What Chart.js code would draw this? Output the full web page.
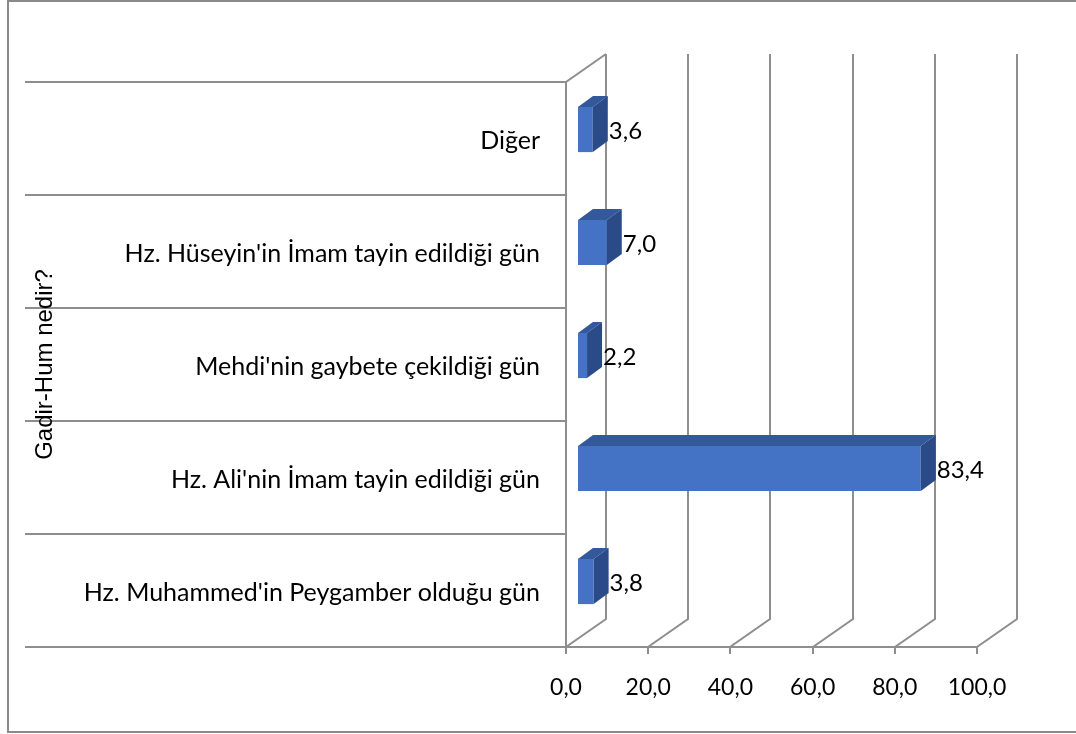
<!DOCTYPE html>
<html>
<head>
<meta charset="utf-8">
<script src="https://cdn.jsdelivr.net/npm/chart.js@4.4.1/dist/chart.umd.min.js"></script>
<style>
  html, body { margin: 0; padding: 0; background: #fff; }
  #wrap { width: 1076px; height: 734px; }
</style>
</head>
<body>
<div id="wrap"><canvas id="gadirChart" width="1076" height="734"></canvas></div>
<script>
const categories = [
  'Diğer',
  "Hz. Hüseyin'in İmam tayin edildiği gün",
  "Mehdi'nin gaybete çekildiği gün",
  "Hz. Ali'nin İmam tayin edildiği gün",
  "Hz. Muhammed'in Peygamber olduğu gün"
];
const percentages = [3.6, 7.0, 2.2, 83.4, 3.8];
const xTicks = [0, 20, 40, 60, 80, 100];
const axisTitle = 'Gadir-Hum nedir?';

const catFont = '25px Lato';
const valueFont = '24px Lato';
const tickFont = '23px Lato';
const gridColor = '#8e8e8e';
// depth of the 3D walls and of the bars
const wallDx = 40, wallDy = -28;
const barShiftX = 12, barShiftY = -9;
const barDx = 15, barDy = -11;

function fmt(v) {
  return v.toFixed(1).replace('.', ',');
}

const threeD = {
  id: 'threeD',
  beforeDraw(chart) {
    const ctx = chart.ctx;
    const x = chart.scales.x, y = chart.scales.y;
    const left = x.getPixelForValue(0), bottom = chart.chartArea.bottom, top = chart.chartArea.top;
    ctx.save();
    // outer border
    ctx.strokeStyle = '#8a8a8a';
    ctx.lineWidth = 2;
    ctx.strokeRect(8, 1, 1080, 731);

    ctx.strokeStyle = gridColor;
    ctx.lineWidth = 2;
    ctx.beginPath();
    // category separators
    const step = y.getPixelForValue(1) - y.getPixelForValue(0);
    for (let i = 0; i <= categories.length; i++) {
      const yy = Math.round(y.getPixelForValue(0) - step / 2 + step * i);
      ctx.moveTo(25, yy);
      ctx.lineTo(left, yy);
    }
    // left wall
    ctx.moveTo(left, bottom);
    ctx.lineTo(left, top);
    ctx.lineTo(left + wallDx, top + wallDy);
    // floor front edge
    ctx.moveTo(left, bottom);
    ctx.lineTo(x.getPixelForValue(100), bottom);
    // floor + back wall lines
    xTicks.forEach(t => {
      const px = Math.round(x.getPixelForValue(t));
      ctx.moveTo(px, bottom + 7);
      ctx.lineTo(px, bottom);
      ctx.lineTo(px + wallDx, bottom + wallDy);
      ctx.lineTo(px + wallDx, top + wallDy);
    });
    ctx.stroke();

    // tick labels
    ctx.fillStyle = '#000';
    ctx.font = tickFont;
    ctx.textAlign = 'center';
    ctx.textBaseline = 'middle';
    xTicks.forEach(t => ctx.fillText(fmt(t), x.getPixelForValue(t), 688));

    // category labels
    ctx.font = catFont;
    ctx.textAlign = 'right';
    categories.forEach((c, i) => ctx.fillText(c, 540, y.getPixelForValue(i) + 2));

    // axis title
    ctx.font = '24px "Liberation Sans"';
    ctx.textAlign = 'center';
    ctx.translate(45, (top + bottom) / 2);
    ctx.rotate(-Math.PI / 2);
    ctx.fillText(axisTitle, 0, 0);
    ctx.restore();
  },
  beforeDatasetsDraw(chart) {
    chart.ctx.save();
    chart.ctx.translate(barShiftX, barShiftY);
  },
  afterDatasetsDraw(chart) {
    const ctx = chart.ctx;
    const meta = chart.getDatasetMeta(0);
    meta.data.forEach((bar, i) => {
      const p = bar.getProps(['x', 'y', 'base', 'height'], true);
      const x0 = p.base, x1 = p.x;
      const yt = p.y - p.height / 2, yb = p.y + p.height / 2;
      ctx.fillStyle = '#34599b';
      ctx.beginPath();
      ctx.moveTo(x0, yt);
      ctx.lineTo(x0 + barDx, yt + barDy);
      ctx.lineTo(x1 + barDx, yt + barDy);
      ctx.lineTo(x1, yt);
      ctx.closePath();
      ctx.fill();
      ctx.fillStyle = '#2a4b87';
      ctx.beginPath();
      ctx.moveTo(x1, yt);
      ctx.lineTo(x1 + barDx, yt + barDy);
      ctx.lineTo(x1 + barDx, yb + barDy);
      ctx.lineTo(x1, yb);
      ctx.closePath();
      ctx.fill();
      ctx.fillStyle = '#000';
      ctx.font = valueFont;
      ctx.textAlign = 'left';
      ctx.textBaseline = 'middle';
      ctx.fillText(fmt(percentages[i]), x1 + barDx + 1, p.y + 2);
    });
    ctx.restore();
  }
};

new Chart(document.getElementById('gadirChart'), {
  type: 'bar',
  data: {
    labels: categories,
    datasets: [{
      data: percentages,
      backgroundColor: '#4472c4',
      borderWidth: 0,
      barPercentage: 0.4,
      categoryPercentage: 1
    }]
  },
  options: {
    indexAxis: 'y',
    responsive: false,
    animation: false,
    layout: { padding: { left: 566, right: 99, top: 82, bottom: 87 } },
    plugins: { legend: { display: false }, tooltip: { enabled: false } },
    scales: {
      x: { display: false, min: 0, max: 100 },
      y: { display: false }
    }
  },
  plugins: [threeD]
});
</script>
</body>
</html>
